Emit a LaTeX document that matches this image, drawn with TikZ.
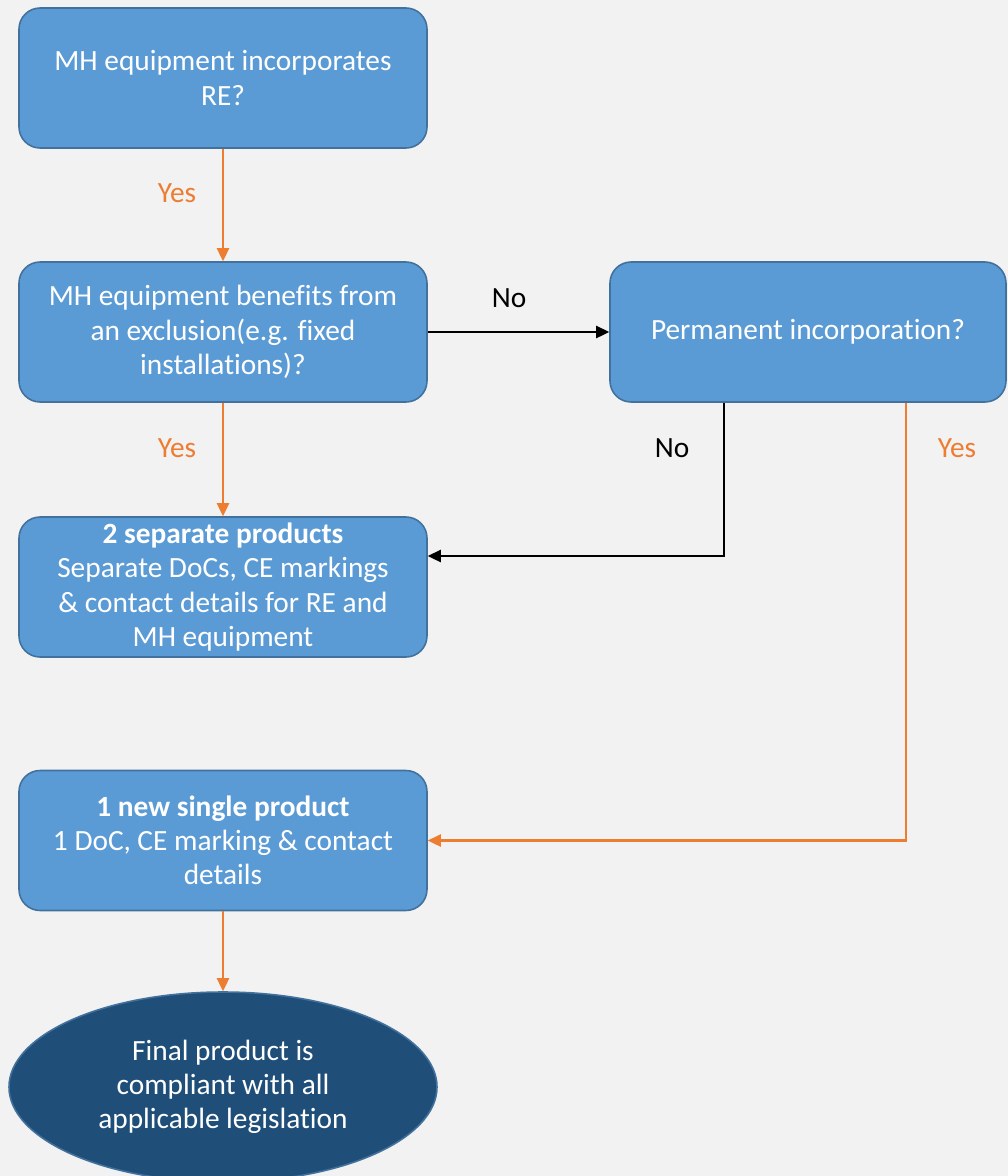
\documentclass[tikz,border=0pt]{standalone}
\usepackage{fontspec}
\setmainfont{Carlito}[Ligatures={NoCommon}]
\usetikzlibrary{shapes.geometric, arrows.meta}
\definecolor{pagebg}{RGB}{242, 242, 242}
\definecolor{boxfill}{RGB}{91, 155, 213}
\definecolor{boxline}{RGB}{65, 113, 156}
\definecolor{endfill}{RGB}{31, 78, 121}
\definecolor{yesline}{RGB}{237, 125, 49}

\begin{document}
\begin{tikzpicture}[
	>={Triangle[length=7.5pt, width=7pt]},
	font=\fontsize{16.7}{19.5}\selectfont,
	% Styles for the boxes and the connectors
	stepbox/.style={draw=boxline, line width=0.9pt, fill=boxfill, rounded corners=12pt,
		minimum width=8.16cm, minimum height=2.8cm, text=white, align=center, inner sep=2pt},
	endbox/.style={ellipse, draw=boxline, line width=0.9pt, fill=endfill,
		minimum width=8.56cm, minimum height=3.8cm, text=white, align=center, inner sep=0pt},
	yesarrow/.style={->, draw=yesline, line width=1.2pt},
	noarrow/.style={->, draw=black, line width=1.2pt},
	yeslabel/.style={text=yesline},
	nolabel/.style={text=black}
	]
	
	% Background and fixed frame
	\fill[pagebg] (0, 0) rectangle (20.16, -23.52);
	\useasboundingbox (0, 0) rectangle (20.16, -23.52);
	
	% ==========================================
	% 1. QUESTIONS
	% ==========================================
	\node[stepbox] (incorp) at (4.46, -1.56) {MH equipment incorporates\\RE?};
	\node[stepbox] (exclusion) at (4.46, -6.64) {MH equipment benefits from\\an exclusion(e.g. fixed\\installations)?};
	\node[stepbox, minimum width=7.92cm] (perm) at (16.16, -6.64) {Permanent incorporation?};
	
	% ==========================================
	% 2. OUTCOMES
	% ==========================================
	\node[stepbox] (separate) at (4.46, -11.74) {\textbf{2 separate products}\\Separate DoCs, CE markings\\\& contact details for RE and\\MH equipment};
	\node[stepbox] (single) at (4.46, -16.81) {\textbf{1 new single product}\\1 DoC, CE marking \& contact\\details};
	\node[endbox] (final) at (4.46, -21.74) {Final product is\\compliant with all\\applicable legislation};
	
	% ==========================================
	% 3. CONNECTORS
	% ==========================================
	\draw[yesarrow] (incorp) -- (exclusion);
	\draw[yesarrow] (exclusion) -- (separate);
	\draw[noarrow] (exclusion) -- (perm);
	\draw[noarrow] ([xshift=-1.68cm]perm.south) |- ([yshift=0.62cm]separate.east);
	\draw[yesarrow] ([xshift=1.96cm]perm.south) |- (single.east);
	\draw[yesarrow] (single) -- (final);
	
	% Answer labels
	\node[yeslabel] (yes1) at (3.54, -3.86) {Yes};
	\node[yeslabel] (yes2) at (3.54, -8.96) {Yes};
	\node[nolabel] (no1) at (10.18, -5.96) {No};
	\node[nolabel] (no2) at (13.44, -8.96) {No};
	\node[yeslabel] (yes3) at (19.14, -8.96) {Yes};
	
\end{tikzpicture}
\end{document}
